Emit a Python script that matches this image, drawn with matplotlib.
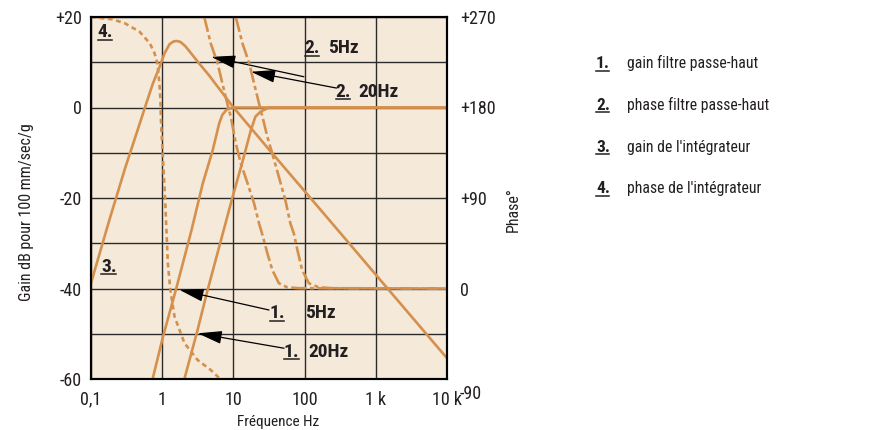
import numpy as np
import matplotlib
matplotlib.use('Agg')
import matplotlib.pyplot as plt
from matplotlib import font_manager as fm
from matplotlib.lines import Line2D
from matplotlib.ticker import NullLocator
from matplotlib.transforms import ScaledTranslation

plt.rcParams['lines.scale_dashes'] = False
avail = {f.name for f in fm.fontManager.ttflist}
FONT = next((c for c in ['Liberation Sans Narrow', 'Roboto Condensed', 'DejaVu Sans'] if c in avail), 'DejaVu Sans')
plt.rcParams['font.family'] = [FONT, 'DejaVu Sans']

# ---------------- data ----------------
x_ticks = [0.1, 1, 10, 100, 1000, 10000]
x_labels = ['0,1', '1', '10', '100', '1 k', '10 k']
gain_ticks = [-60, -40, -20, 0, 20]
gain_labels = ['-60', '-40', '-20', '0', '+20']
gain_grid = [-50, -30, -10, 10]
phase_ticks = [-90, 0, 90, 180, 270]
phase_labels = ['-90', '0', '+90', '+180', '+270']

# 1. gain filtre passe-haut (5 Hz / 20 Hz)
f_hp5_gain = [0.72, 1.02, 1.575, 2.59, 3.71, 5.13, 6.32, 7.0, 8.0, 10.0, 10000]
g_hp5_gain = [-60.5, -50.8, -40.0, -27.0, -16.8, -9.4, -3.5, -1.6, -0.5, 0.0, 0.0]
f_hp20_gain = [2.0, 3.1, 4.3, 7.3, 9.8, 13.4, 17.6, 20.4, 24.2, 31.6, 10000]
g_hp20_gain = [-60.6, -49.5, -40.6, -27.1, -19.6, -12.0, -5.0, -2.0, -0.9, 0.0, 0.0]

# 2. phase filtre passe-haut (5 Hz / 20 Hz)
f_hp5_phase = [3.9, 4.8, 6.0, 7.0, 8.2, 9.2, 10.8, 12.7, 15.8, 19.5, 22.9, 25.6, 30.0, 35.2, 43.6, 56.9, 82.8, 10000]
p_hp5_phase = [270, 243.8, 224, 204, 184, 170.8, 144.4, 124.5, 104.6, 84.7, 64.8, 53.2, 35, 18.4, 5.2, 1.2, 0.3, 0]
f_hp20_phase = [10.8, 13.4, 16.7, 19.5, 22.9, 25.6, 30.0, 35.2, 43.6, 53.8, 63.3, 70.8, 79.4, 92.4, 114.6, 158, 240, 10000]
p_hp20_phase = [270, 243.8, 224, 204, 184, 170.8, 150.8, 134.1, 110.8, 87.5, 64.4, 54.4, 38, 18.4, 5.2, 1.2, 0.3, 0]

# 3. gain de l'intégrateur
f_int_gain = [0.1, 0.18, 0.3, 0.46, 0.6, 0.74, 0.92, 1.08, 1.27, 1.45, 1.6, 1.8, 2.1, 2.54, 3.2, 4.5, 9.8, 35, 185, 1500, 10000]
g_int_gain = [-38.8, -25.0, -13.5, -4.6, 1.0, 5.3, 9.0, 12.0, 14.0, 14.6, 14.7, 14.5, 13.6, 12.0, 10.0, 7.2, 0.2, -10.1, -23.4, -40.2, -55.4]

# 4. phase de l'intégrateur
f_int_phase = [0.1, 0.2, 0.3, 0.48, 0.67, 0.78, 0.855, 0.89, 0.92, 0.945, 0.96, 0.975, 1.01, 1.1, 1.2, 1.3, 1.49, 2.05, 3.13, 4.8, 5.7, 6.3]
p_int_phase = [270, 267.7, 263.7, 255.4, 243.9, 234, 224, 212.5, 200.7, 187, 168, 157, 137.7, 88.2, 25.2, -1.3, -27.9, -54.2, -71, -81, -86, -89]

legend_nums = ['1.', '2.', '3.', '4.']
legend_texts = ['gain filtre passe-haut', 'phase filtre passe-haut',
                "gain de l'intégrateur", "phase de l'intégrateur"]

# annotations: (number, suffix, number pos, suffix pos, arrow tip, arrow tail)
annots = [
    ('1.', '5Hz', (32.3, -46.6), (100.6, -46.6), (1.75, -40.3), (31.6, -44.75)),
    ('1.', '20Hz', (51.2, -55.1), (111.9, -55.1), (3.15, -49.9), (51.4, -53.2)),
    ('2.', '5Hz', (100.6, 12.0), (217, 12.0), (4.87, 11.2), (97.6, 6.8)),
    ('2.', '20Hz', (272.9, 2.4), (571, 2.4), (17.7, 7.9), (280, 4.3)),
]
curve_tags = [('4.', (0.124, 15.5)), ('3.', (0.138, -36.35))]

# ---------------- style ----------------
BG = '#F5E9DA'
CURVE = '#D4904C'
TXT = '#231F20'
GRID = '#2B2B2B'
LW = 1.9
DASH_PHASE = (0, (11, 2.5, 3, 2.5))
DOT = (0, (3.5, 2.6))

fig = plt.figure(figsize=(8.81, 4.30), dpi=100)
ax = fig.add_axes([91 / 881, 1 - 379 / 430, 356 / 881, 362 / 430])
ax.set_facecolor(BG)
ax.set_xscale('log')
ax.set_xlim(0.1, 10000)
ax.set_ylim(-60, 20)
ax.set_xticks(x_ticks)
ax.set_xticklabels(x_labels)
ax.xaxis.set_minor_locator(NullLocator())
ax.set_yticks(gain_ticks)
ax.set_yticklabels(gain_labels)
ax.set_yticks(gain_grid, minor=True)
ax.grid(True, which='both', color=GRID, lw=1.0)
ax.set_axisbelow(True)
ax.tick_params(which='both', length=0)
ax.tick_params(axis='y', labelsize=13, pad=6.5, labelcolor=TXT)
ax.tick_params(axis='x', labelsize=13, pad=8.5, labelcolor=TXT)
for s in ax.spines.values():
    s.set_linewidth(1.5)
    s.set_color('black')

ax.plot(f_int_gain, g_int_gain, color=CURVE, lw=LW)
ax.plot(f_hp20_gain, g_hp20_gain, color=CURVE, lw=LW)
ax.plot(f_hp5_gain, g_hp5_gain, color=CURVE, lw=LW)

ax2 = ax.twinx()
ax2.set_ylim(-90, 270)
ax2.set_yticks(phase_ticks)
ax2.set_yticklabels(phase_labels)
ax2.tick_params(length=0, labelsize=13, pad=9.4, labelcolor=TXT)
for s in ax2.spines.values():
    s.set_linewidth(1.5)
    s.set_color('black')
lab_m90 = ax2.get_yticklabels()[0]
lab_m90.set_transform(lab_m90.get_transform() + ScaledTranslation(0, -0.13, fig.dpi_scale_trans))

ax2.plot(f_hp5_phase, p_hp5_phase, color=CURVE, lw=LW, ls=DASH_PHASE)
ax2.plot(f_hp20_phase, p_hp20_phase, color=CURVE, lw=LW, ls=DASH_PHASE)
ax2.plot(f_int_phase, p_int_phase, color=CURVE, lw=LW, ls=DOT)

# axis titles
fig.text(27 / 881, 1 - 212 / 430, 'Gain dB pour 100 mm/sec/g', rotation=90,
         ha='center', va='center', size=11.5, color=TXT)
fig.text(513 / 881, 1 - 210 / 430, 'Phase°', rotation=90,
         ha='center', va='center', size=11.5, color=TXT)
fig.text(278 / 881, 1 - 426 / 430, 'Fréquence Hz', ha='center', va='baseline',
         size=11, color=TXT)

underline = []
# curve tags
for lab, pos in curve_tags:
    t = ax.text(pos[0], pos[1], lab, ha='left', va='baseline', weight='bold',
                size=14, color=TXT, zorder=6)
    underline.append(t)

# annotations with arrows
for num, suf, pn, ps, tip, tail in annots:
    t = ax.text(pn[0], pn[1], num, ha='left', va='baseline', weight='bold',
                size=14, color=TXT, zorder=6)
    underline.append(t)
    ax.text(ps[0], ps[1], suf, ha='left', va='baseline', weight='bold',
            size=14, color=TXT, zorder=6)
    ax.annotate('', xy=tip, xytext=tail, zorder=7,
                arrowprops=dict(arrowstyle='-|>,head_length=0.75,head_width=0.2',
                                mutation_scale=20, lw=0.9, color='black',
                                shrinkA=0, shrinkB=0))

# legend block
for i, (n, txt) in enumerate(zip(legend_nums, legend_texts)):
    yb = 1 - (68 + 41.8 * i) / 430
    t = fig.text(596 / 881, yb, n, ha='left', va='baseline', weight='bold',
                 size=12.5, color=TXT)
    underline.append(t)
    fig.text(627 / 881, yb, txt, ha='left', va='baseline', size=11.3, color=TXT)

# underlines under the numbers
fig.canvas.draw()
r = fig.canvas.get_renderer()
W, H = fig.bbox.width, fig.bbox.height
for t in underline:
    bb = t.get_window_extent(r)
    xd, yd = t.get_transform().transform(t.get_position())
    yl = yd - 2.5
    fig.add_artist(Line2D([bb.x0 / W, (bb.x1 - 1) / W], [yl / H, yl / H],
                          transform=fig.transFigure, color=TXT, lw=1.1))

fig.savefig('out.png', dpi=100, facecolor='white')
